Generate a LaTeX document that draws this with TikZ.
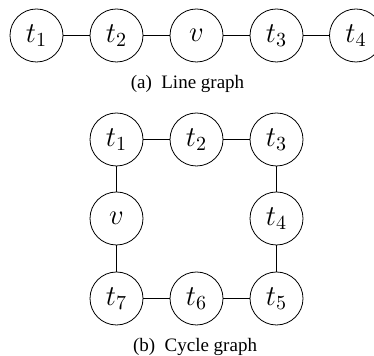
\documentclass[tikz,border=0pt]{standalone}
\usepackage{amsmath}
\usepackage{fontspec}
\setmainfont{Liberation Serif}
\usepackage{tikz}
\usetikzlibrary{positioning}

\tikzset{vertex/.style={draw=black,circle,minimum size=26.5pt,inner sep=0pt,font=\Large}}

\begin{document}
\begin{tikzpicture}[x=0.5pt,y=0.5pt]
\useasboundingbox (0,0) rectangle (374,-356);
% (a) line graph
\node [vertex] (a1) at (36.5,-35.5) {$t_1$};
\node [vertex] (a2) at (116.5,-35.5) {$t_2$};
\node [vertex] (av) at (196.5,-35.5) {$v$};
\node [vertex] (a3) at (276.5,-35.5) {$t_3$};
\node [vertex] (a4) at (356,-35.5) {$t_4$};
\draw [black] (a1) -- (a2);
\draw [black] (a2) -- (av);
\draw [black] (av) -- (a3);
\draw [black] (a3) -- (a4);
\node [font=\fontsize{9.5}{11}\selectfont] (capa) at (187.5,-84) {(a)\ \ Line graph};
% (b) cycle graph
\node [vertex] (b1) at (116.5,-139.5) {$t_1$};
\node [vertex] (b2) at (196.5,-139.5) {$t_2$};
\node [vertex] (b3) at (276.5,-139.5) {$t_3$};
\node [vertex] (bv) at (116.5,-218.5) {$v$};
\node [vertex] (b4) at (276.5,-218.5) {$t_4$};
\node [vertex] (b7) at (116.5,-298.5) {$t_7$};
\node [vertex] (b6) at (196.5,-298.5) {$t_6$};
\node [vertex] (b5) at (276.5,-298.5) {$t_5$};
\draw [black] (b1) -- (b2);
\draw [black] (b2) -- (b3);
\draw [black] (b3) -- (b4);
\draw [black] (b4) -- (b5);
\draw [black] (b5) -- (b6);
\draw [black] (b6) -- (b7);
\draw [black] (b7) -- (bv);
\draw [black] (bv) -- (b1);
\node [font=\fontsize{9.5}{11}\selectfont] (capb) at (195,-347) {(b)\ \ Cycle graph};
\end{tikzpicture}
\end{document}
